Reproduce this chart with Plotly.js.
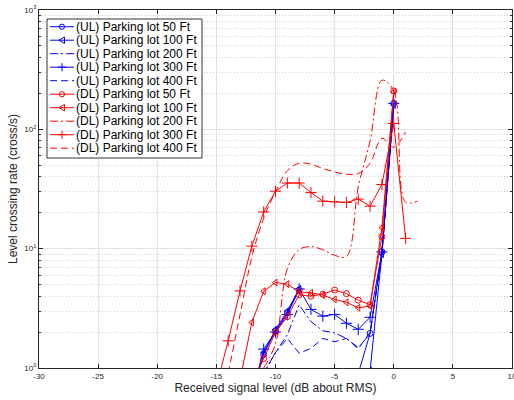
<!DOCTYPE html>
<html>
<head>
<meta charset="utf-8">
<script src="https://cdn.plot.ly/plotly-3.0.1.min.js"></script>
<style>html,body{margin:0;padding:0;background:#fff;}#chart{width:514px;height:400px;}</style>
</head>
<body>
<div id="chart"></div>
<script>
// Received signal level (dB about RMS)
var dB = [-15,-14,-13,-12,-11,-10,-9,-8,-7,-6,-5,-4,-3,-2,-1,0,1,2];
// Level crossing rate (cross/s)
var ul50  = [null,null,null,0.6,1.3,2.05,2.9,4.5,null,null,null,null,0.9,1.95,9.4,165,null,null];
var ul100 = [null,null,null,0.62,1.35,2.1,3.0,4.6,null,null,null,null,null,0.95,9.0,160,null,null];
var ul200 = [null,null,null,null,0.9,1.35,1.9,3.37,2.45,2.05,1.97,1.77,1.48,1.93,9.0,165,null,null];
var ul300 = [null,null,null,0.58,1.44,2.0,2.8,4.6,3.1,2.72,2.81,2.37,2.11,2.66,9.4,165,null,null];
var ul400 = [null,null,null,null,0.9,1.35,1.77,1.33,1.46,1.77,1.66,1.77,1.45,2.0,9.2,165,null,null];
var dl50  = [null,null,null,0.73,1.2,1.99,2.69,4.1,4.0,4.16,4.5,4.2,3.7,3.4,12.6,210,null,null];
var dl100 = [null,null,0.8,2.41,4.4,5.2,5.05,4.35,4.27,4.08,3.76,3.55,3.2,3.3,15,205,null,null];
var dl200 = [null,null,null,null,1.0,1.6,6.8,9.8,10.4,9.8,8.8,8.6,33,80,258,210,24.5,25];
var dl300 = [0.7,1.69,4.43,10.5,20.3,30.3,35.5,35.5,29.5,25,24.7,24.4,26,22.7,34.5,112,12.2,null];
var dl400 = [null,0.9,2.8,8.5,18,30,45,52,51,47,44,42,42.6,52,84,71,95,null];

var seriesNames = ['(UL) Parking lot 50 Ft','(UL) Parking lot 100 Ft','(UL) Parking lot 200 Ft','(UL) Parking lot 300 Ft','(UL) Parking lot 400 Ft',
                   '(DL) Parking lot 50 Ft','(DL) Parking lot 100 Ft','(DL) Parking lot 200 Ft','(DL) Parking lot 300 Ft','(DL) Parking lot 400 Ft'];
var seriesValues = [ul50,ul100,ul200,ul300,ul400,dl50,dl100,dl200,dl300,dl400];
var xTickVals = [-30,-25,-20,-15,-10,-5,0,5,10];
var xTickText = ['-30','-25','-20','-15','-10','-5','0','5','10'];
var yTickVals = [1,10,100,1000];
var yTickText = ['10<sup>0</sup>','10<sup>1</sup>','10<sup>2</sup>','10<sup>3</sup>'];
var minorVals = [2,3,4,5,6,7,8,9,20,30,40,50,60,70,80,90,200,300,400,500,600,700,800,900];

var BLUE = '#0000ff', RED = '#ff0000';
var DASH = '7px,4px', DASHDOT = '8px,3px,2px,3px';
var styles = [
  {c:BLUE, d:'solid', m:'circle-open', smooth:false},
  {c:BLUE, d:'solid', m:'triangle-left-open', smooth:false},
  {c:BLUE, d:DASHDOT, m:null, smooth:false},
  {c:BLUE, d:'solid', m:'cross-thin-open', smooth:false},
  {c:BLUE, d:DASH, m:null, smooth:false},
  {c:RED, d:'solid', m:'circle-open', smooth:false},
  {c:RED, d:'solid', m:'triangle-left-open', smooth:false},
  {c:RED, d:DASHDOT, m:null, smooth:true},
  {c:RED, d:'solid', m:'cross-thin-open', smooth:false},
  {c:RED, d:DASH, m:null, smooth:true}
];

var traces = seriesValues.map(function(vals, i){
  var s = styles[i];
  var t = {
    x: dB, y: vals, name: seriesNames[i], type:'scatter',
    mode: s.m ? 'lines+markers' : 'lines',
    line: {color:s.c, width:1, dash:s.d, shape: s.smooth ? 'spline' : 'linear', smoothing:1},
    connectgaps:false, showlegend:false
  };
  if (s.m) t.marker = {symbol:s.m, size: s.m==='cross-thin-open'?8:6, color:s.c, line:{color:s.c, width:1}};
  return t;
});

// custom legend (pixel layout converted to paper coords)
var L=39, R=512, T=10, B=368;
function xp(px){return (px-L)/(R-L);}
function yp(py){return (B-py)/(B-T);}
var shapes = [{type:'rect', xref:'paper', yref:'paper', x0:xp(47), x1:xp(202), y0:yp(158), y1:yp(19),
  fillcolor:'#ffffff', line:{color:'#000000', width:0.8}, layer:'above'}];
var annotations = [];
seriesNames.forEach(function(n,i){
  var s = styles[i];
  var py = 26.7 + 13.5*i;
  shapes.push({type:'line', xref:'paper', yref:'paper', x0:xp(50), x1:xp(74), y0:yp(py), y1:yp(py),
    line:{color:s.c, width:1, dash:s.d}, layer:'above'});
  var cx=62, r=2.6;
  if (s.m==='circle-open') {
    shapes.push({type:'circle', xref:'paper', yref:'paper', x0:xp(cx-r), x1:xp(cx+r), y0:yp(py+r), y1:yp(py-r),
      line:{color:s.c, width:1}, layer:'above'});
  } else if (s.m==='triangle-left-open') {
    shapes.push({type:'path', xref:'paper', yref:'paper',
      path:'M'+xp(cx-3)+','+yp(py)+' L'+xp(cx+2.5)+','+yp(py-3.2)+' L'+xp(cx+2.5)+','+yp(py+3.2)+' Z',
      line:{color:s.c, width:1}, layer:'above'});
  } else if (s.m==='cross-thin-open') {
    shapes.push({type:'path', xref:'paper', yref:'paper',
      path:'M'+xp(cx-4)+','+yp(py)+' L'+xp(cx+4)+','+yp(py)+' M'+xp(cx)+','+yp(py-4)+' L'+xp(cx)+','+yp(py+4),
      line:{color:s.c, width:1}, layer:'above'});
  }
  annotations.push({xref:'paper', yref:'paper', x:xp(75), y:yp(py), xanchor:'left', yanchor:'middle',
    text:n, showarrow:false, font:{size:12, color:'#000000'}, borderpad:0});
});

var axisCol = '#262626';
var layout = {
  width:514, height:400,
  margin:{l:L, r:514-R, t:T, b:400-B},
  paper_bgcolor:'#ffffff', plot_bgcolor:'#ffffff',
  showlegend:false,
  font:{family:'Liberation Sans, Arial, Helvetica, sans-serif', color:axisCol},
  xaxis:{range:[-30,10], tickmode:'array', tickvals:xTickVals, ticktext:xTickText, ticklabeloverflow:'allow',
    ticks:'inside', ticklen:4, tickcolor:axisCol, tickwidth:1,
    showline:true, linecolor:axisCol, linewidth:1, mirror:'ticks', showgrid:true, gridcolor:'#e3e3e3', gridwidth:1,
    zeroline:false, tickfont:{size:8, color:axisCol}, automargin:false,
    title:{text:'Received signal level (dB about RMS)', font:{size:12, color:axisCol}, standoff:2}},
  yaxis:{type:'log', range:[0,3], tickmode:'array', tickvals:yTickVals, ticktext:yTickText, ticklabeloverflow:'allow',
    ticks:'inside', ticklen:4, tickcolor:axisCol, tickwidth:1,
    showline:true, linecolor:axisCol, linewidth:1, mirror:'ticks', showgrid:true, gridcolor:'#e3e3e3', gridwidth:1,
    zeroline:false, tickfont:{size:8, color:axisCol}, automargin:false,
    minor:{tickmode:'array', tickvals:minorVals, ticks:'inside', ticklen:2, tickcolor:axisCol,
      showgrid:true, gridcolor:'#cfcfcf', griddash:'1px,2px', gridwidth:1},
    title:{text:'Level crossing rate (cross/s)', font:{size:12, color:axisCol}, standoff:4}},
  shapes:shapes,
  annotations:annotations
};
Plotly.newPlot('chart', traces, layout, {displayModeBar:false, staticPlot:true});
</script>
</body>
</html>
